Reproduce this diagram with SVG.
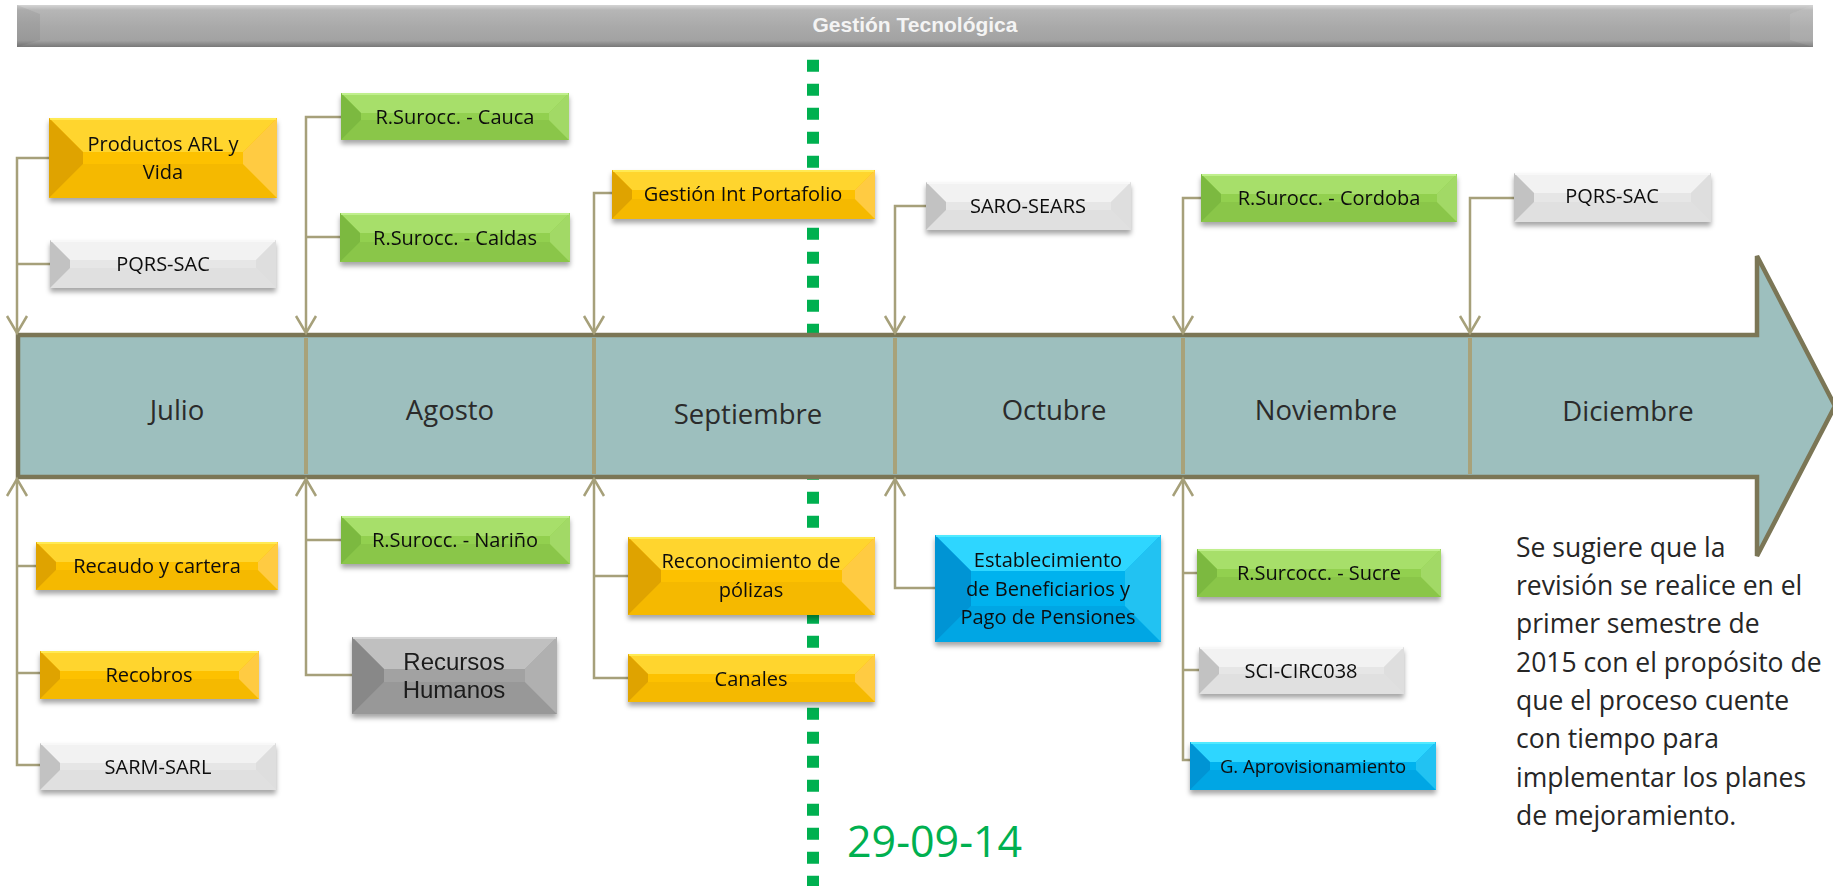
<svg xmlns="http://www.w3.org/2000/svg" width="1833" height="886" viewBox="0 0 1833 886">
<style>
.lbl{font-family:"Open Sans","Noto Sans",sans-serif;font-size:20px;fill:#0d0d0d;text-anchor:middle}
.lblA{font-family:"Liberation Sans",Arial,sans-serif;font-size:24px;fill:#1a1a1a;text-anchor:middle}
.month{font-family:"Open Sans","Noto Sans",sans-serif;font-size:27.5px;fill:#2b2b2b;text-anchor:middle}
.note{font-family:"Open Sans","Noto Sans",sans-serif;font-size:26.5px;fill:#262626}
.node{filter:url(#sh)}
.yellow .base{fill:#fdc100}.yellow .t{fill:#ffd52e}.yellow .l{fill:#dfa300}.yellow .r{fill:#ffcb42}.yellow .bo{fill:#f5b900}.yellow .hl{stroke:#fff060}
.green .base{fill:#92d050}.green .t{fill:#a7df6a}.green .l{fill:#7bb93f}.green .r{fill:#a2d966}.green .bo{fill:#8ac64a}.green .hl{stroke:#c8f49a}
.white .base{fill:#e6e6e6}.white .t{fill:#f2f2f2}.white .l{fill:#c2c2c2}.white .r{fill:#dedede}.white .bo{fill:#e0e0e0}.white .hl{stroke:#fafafa}
.blue .base{fill:#00b2ee}.blue .t{fill:#2ed6ff}.blue .l{fill:#0094d4}.blue .r{fill:#22c2f2}.blue .bo{fill:#00a6e4}.blue .hl{stroke:#5ef0ff}
.gray .base{fill:#a2a2a2}.gray .t{fill:#c0c0c0}.gray .l{fill:#888888}.gray .r{fill:#b0b0b0}.gray .bo{fill:#989898}.gray .hl{stroke:#dcdcdc}
.hl{stroke-width:1.5;fill:none}
</style>
<defs>
<filter id="sh" x="-10%" y="-20%" width="120%" height="150%">
<feDropShadow dx="0" dy="4" stdDeviation="2.5" flood-color="#000" flood-opacity="0.35"/>
</filter>
<linearGradient id="ban" x1="0" y1="0" x2="0" y2="1">
<stop offset="0" stop-color="#d4d4d4"/>
<stop offset="0.12" stop-color="#b6b6b6"/>
<stop offset="0.5" stop-color="#aaaaaa"/>
<stop offset="0.85" stop-color="#a2a2a2"/>
<stop offset="1" stop-color="#787878"/>
</linearGradient>
<marker id="v" markerUnits="userSpaceOnUse" markerWidth="30" markerHeight="30" viewBox="-20 -15 30 30" refX="0" refY="0" orient="auto">
<path d="M-17,-10 L0,0 L-17,10" fill="none" stroke="#a6a07a" stroke-width="2.5"/>
</marker>
</defs>

<rect x="0" y="0" width="1833" height="886" fill="#ffffff"/>

<g id="banner">
<rect x="17" y="5" width="1796" height="42" fill="url(#ban)"/>
<polygon points="17,5 40,14 40,40 17,47" fill="#000" opacity="0.06"/>
<polygon points="1813,5 1790,14 1790,40 1813,47" fill="#fff" opacity="0.08"/>
<text x="915" y="32" font-family="'Liberation Sans',Arial,sans-serif" font-size="21" font-weight="bold" fill="#f4f4f4" text-anchor="middle">Gestión Tecnológica</text>
</g>

<g id="milestone">
<line x1="813" y1="59.7" x2="813" y2="886" stroke="#00b050" stroke-width="12" stroke-dasharray="12 12"/>
<text x="847" y="857" font-family="'Open Sans','Noto Sans',sans-serif" font-size="43" fill="#00b050">29-09-14</text>
</g>

<g id="timeline">
<path d="M18,335 H1757 V256 L1835,406 L1757,556 V477 H18 Z" fill="#9dbfbe" stroke="#7b7656" stroke-width="4.5"/>
<g stroke="#a8a27a" stroke-width="4">
<line x1="306" y1="338" x2="306" y2="474"/>
<line x1="594" y1="338" x2="594" y2="474"/>
<line x1="895" y1="338" x2="895" y2="474"/>
<line x1="1183" y1="338" x2="1183" y2="474"/>
<line x1="1470" y1="338" x2="1470" y2="474"/>
</g>
<text class="month" x="177" y="420">Julio</text>
<text class="month" x="450" y="420">Agosto</text>
<text class="month" x="748" y="424">Septiembre</text>
<text class="month" x="1054" y="420">Octubre</text>
<text class="month" x="1326" y="420">Noviembre</text>
<text class="month" x="1628" y="421">Diciembre</text>
</g>

<g id="connectors" fill="none" stroke="#a6a07a" stroke-width="2.5">
<path d="M49,158 H17 V333" marker-end="url(#v)"/>
<path d="M50,264 H17"/>
<path d="M341,117 H306 V333" marker-end="url(#v)"/>
<path d="M340,237 H306"/>
<path d="M612,193 H594 V333" marker-end="url(#v)"/>
<path d="M926,206 H895 V333" marker-end="url(#v)"/>
<path d="M1201,198 H1183 V333" marker-end="url(#v)"/>
<path d="M1514,198 H1470 V333" marker-end="url(#v)"/>
<path d="M40,765 H17 V479" marker-end="url(#v)"/>
<path d="M36,566 H17"/>
<path d="M40,673 H17"/>
<path d="M352,675 H306 V479" marker-end="url(#v)"/>
<path d="M341,540 H306"/>
<path d="M628,678 H594 V479" marker-end="url(#v)"/>
<path d="M628,576 H594"/>
<path d="M935,588 H895 V479" marker-end="url(#v)"/>
<path d="M1190,760 H1183 V479" marker-end="url(#v)"/>
<path d="M1197,573 H1183"/>
<path d="M1199,670 H1183"/>
</g>

<g id="n-productos" class="node yellow" transform="translate(49,118)">
<rect class="base" width="228" height="80"/>
<polygon class="t" points="0,0 228,0 194,34 34,34"/><polygon class="bo" points="0,80 228,80 194,46 34,46"/>
<polygon class="l" points="0,0 34,34 34,46 0,80"/><polygon class="r" points="228,0 194,34 194,46 228,80"/>
<line class="hl" x1="1" y1="1" x2="227" y2="1"/>
<text class="lbl" x="114" y="33">Productos ARL y</text><text class="lbl" x="114" y="61">Vida</text>
</g>

<g id="n-pqrs1" class="node white" transform="translate(50,240)">
<rect class="base" width="226" height="48"/>
<polygon class="t" points="0,0 226,0 206,20 20,20"/><polygon class="bo" points="0,48 226,48 206,28 20,28"/>
<polygon class="l" points="0,0 20,20 20,28 0,48"/><polygon class="r" points="226,0 206,20 206,28 226,48"/>
<line class="hl" x1="1" y1="1" x2="225" y2="1"/>
<text class="lbl" x="113" y="31">PQRS-SAC</text>
</g>

<g id="n-cauca" class="node green" transform="translate(341,93)">
<rect class="base" width="228" height="47"/>
<polygon class="t" points="0,0 228,0 208,20 20,20"/><polygon class="bo" points="0,47 228,47 208,27 20,27"/>
<polygon class="l" points="0,0 20,20 20,27 0,47"/><polygon class="r" points="228,0 208,20 208,27 228,47"/>
<line class="hl" x1="1" y1="1" x2="227" y2="1"/>
<text class="lbl" x="114" y="31">R.Surocc. - Cauca</text>
</g>

<g id="n-caldas" class="node green" transform="translate(340,213)">
<rect class="base" width="230" height="49"/>
<polygon class="t" points="0,0 230,0 210,20 20,20"/><polygon class="bo" points="0,49 230,49 210,29 20,29"/>
<polygon class="l" points="0,0 20,20 20,29 0,49"/><polygon class="r" points="230,0 210,20 210,29 230,49"/>
<line class="hl" x1="1" y1="1" x2="229" y2="1"/>
<text class="lbl" x="115" y="32">R.Surocc. - Caldas</text>
</g>

<g id="n-portafolio" class="node yellow" transform="translate(612,170)">
<rect class="base" width="263" height="49"/>
<polygon class="t" points="0,0 263,0 243,20 20,20"/><polygon class="bo" points="0,49 263,49 243,29 20,29"/>
<polygon class="l" points="0,0 20,20 20,29 0,49"/><polygon class="r" points="263,0 243,20 243,29 263,49"/>
<line class="hl" x1="1" y1="1" x2="262" y2="1"/>
<text class="lbl" x="131" y="31">Gestión Int Portafolio</text>
</g>

<g id="n-saro" class="node white" transform="translate(926,182)">
<rect class="base" width="205" height="48"/>
<polygon class="t" points="0,0 205,0 185,20 20,20"/><polygon class="bo" points="0,48 205,48 185,28 20,28"/>
<polygon class="l" points="0,0 20,20 20,28 0,48"/><polygon class="r" points="205,0 185,20 185,28 205,48"/>
<line class="hl" x1="1" y1="1" x2="204" y2="1"/>
<text class="lbl" x="102" y="31">SARO-SEARS</text>
</g>

<g id="n-cordoba" class="node green" transform="translate(1201,174)">
<rect class="base" width="256" height="48"/>
<polygon class="t" points="0,0 256,0 236,20 20,20"/><polygon class="bo" points="0,48 256,48 236,28 20,28"/>
<polygon class="l" points="0,0 20,20 20,28 0,48"/><polygon class="r" points="256,0 236,20 236,28 256,48"/>
<line class="hl" x1="1" y1="1" x2="255" y2="1"/>
<text class="lbl" x="128" y="31">R.Surocc. - Cordoba</text>
</g>

<g id="n-pqrs2" class="node white" transform="translate(1514,173)">
<rect class="base" width="197" height="49"/>
<polygon class="t" points="0,0 197,0 177,20 20,20"/><polygon class="bo" points="0,49 197,49 177,29 20,29"/>
<polygon class="l" points="0,0 20,20 20,29 0,49"/><polygon class="r" points="197,0 177,20 177,29 197,49"/>
<line class="hl" x1="1" y1="1" x2="196" y2="1"/>
<text class="lbl" x="98" y="30">PQRS-SAC</text>
</g>

<g id="n-recaudo" class="node yellow" transform="translate(36,542)">
<rect class="base" width="242" height="48"/>
<polygon class="t" points="0,0 242,0 222,20 20,20"/><polygon class="bo" points="0,48 242,48 222,28 20,28"/>
<polygon class="l" points="0,0 20,20 20,28 0,48"/><polygon class="r" points="242,0 222,20 222,28 242,48"/>
<line class="hl" x1="1" y1="1" x2="241" y2="1"/>
<text class="lbl" x="121" y="31">Recaudo y cartera</text>
</g>

<g id="n-recobros" class="node yellow" transform="translate(40,651)">
<rect class="base" width="219" height="48"/>
<polygon class="t" points="0,0 219,0 199,20 20,20"/><polygon class="bo" points="0,48 219,48 199,28 20,28"/>
<polygon class="l" points="0,0 20,20 20,28 0,48"/><polygon class="r" points="219,0 199,20 199,28 219,48"/>
<line class="hl" x1="1" y1="1" x2="218" y2="1"/>
<text class="lbl" x="109" y="31">Recobros</text>
</g>

<g id="n-sarm" class="node white" transform="translate(40,743)">
<rect class="base" width="236" height="47"/>
<polygon class="t" points="0,0 236,0 216,20 20,20"/><polygon class="bo" points="0,47 236,47 216,27 20,27"/>
<polygon class="l" points="0,0 20,20 20,27 0,47"/><polygon class="r" points="236,0 216,20 216,27 236,47"/>
<line class="hl" x1="1" y1="1" x2="235" y2="1"/>
<text class="lbl" x="118" y="31">SARM-SARL</text>
</g>

<g id="n-narino" class="node green" transform="translate(341,516)">
<rect class="base" width="229" height="48"/>
<polygon class="t" points="0,0 229,0 209,20 20,20"/><polygon class="bo" points="0,48 229,48 209,28 20,28"/>
<polygon class="l" points="0,0 20,20 20,28 0,48"/><polygon class="r" points="229,0 209,20 209,28 229,48"/>
<line class="hl" x1="1" y1="1" x2="228" y2="1"/>
<text class="lbl" x="114" y="31">R.Surocc. - Nariño</text>
</g>

<g id="n-rrhh" class="node gray" transform="translate(352,637)">
<rect class="base" width="205" height="77"/>
<polygon class="t" points="0,0 205,0 173,32 32,32"/><polygon class="bo" points="0,77 205,77 173,45 32,45"/>
<polygon class="l" points="0,0 32,32 32,45 0,77"/><polygon class="r" points="205,0 173,32 173,45 205,77"/>
<line class="hl" x1="1" y1="1" x2="204" y2="1"/>
<text class="lblA" x="102" y="33">Recursos</text><text class="lblA" x="102" y="61">Humanos</text>
</g>

<g id="n-reconocimiento" class="node yellow" transform="translate(628,537)">
<rect class="base" width="247" height="78"/>
<polygon class="t" points="0,0 247,0 214,33 33,33"/><polygon class="bo" points="0,78 247,78 214,45 33,45"/>
<polygon class="l" points="0,0 33,33 33,45 0,78"/><polygon class="r" points="247,0 214,33 214,45 247,78"/>
<line class="hl" x1="1" y1="1" x2="246" y2="1"/>
<text class="lbl" x="123" y="31">Reconocimiento de</text><text class="lbl" x="123" y="60">pólizas</text>
</g>

<g id="n-canales" class="node yellow" transform="translate(628,654)">
<rect class="base" width="247" height="48"/>
<polygon class="t" points="0,0 247,0 227,20 20,20"/><polygon class="bo" points="0,48 247,48 227,28 20,28"/>
<polygon class="l" points="0,0 20,20 20,28 0,48"/><polygon class="r" points="247,0 227,20 227,28 247,48"/>
<line class="hl" x1="1" y1="1" x2="246" y2="1"/>
<text class="lbl" x="123" y="32">Canales</text>
</g>

<g id="n-establecimiento" class="node blue" transform="translate(935,535)">
<rect class="base" width="226" height="107"/>
<polygon class="t" points="0,0 226,0 190,36 36,36"/><polygon class="bo" points="0,107 226,107 190,71 36,71"/>
<polygon class="l" points="0,0 36,36 36,71 0,107"/><polygon class="r" points="226,0 190,36 190,71 226,107"/>
<line class="hl" x1="1" y1="1" x2="225" y2="1"/>
<text class="lbl" x="113" y="32">Establecimiento</text><text class="lbl" x="113" y="61">de Beneficiarios y</text><text class="lbl" x="113" y="89">Pago de Pensiones</text>
</g>

<g id="n-sucre" class="node green" transform="translate(1197,549)">
<rect class="base" width="244" height="48"/>
<polygon class="t" points="0,0 244,0 224,20 20,20"/><polygon class="bo" points="0,48 244,48 224,28 20,28"/>
<polygon class="l" points="0,0 20,20 20,28 0,48"/><polygon class="r" points="244,0 224,20 224,28 244,48"/>
<line class="hl" x1="1" y1="1" x2="243" y2="1"/>
<text class="lbl" x="122" y="31">R.Surcocc. - Sucre</text>
</g>

<g id="n-sci" class="node white" transform="translate(1199,647)">
<rect class="base" width="205" height="47"/>
<polygon class="t" points="0,0 205,0 185,20 20,20"/><polygon class="bo" points="0,47 205,47 185,27 20,27"/>
<polygon class="l" points="0,0 20,20 20,27 0,47"/><polygon class="r" points="205,0 185,20 185,27 205,47"/>
<line class="hl" x1="1" y1="1" x2="204" y2="1"/>
<text class="lbl" x="102" y="31">SCI-CIRC038</text>
</g>

<g id="n-aprov" class="node blue" transform="translate(1190,742)">
<rect class="base" width="246" height="48"/>
<polygon class="t" points="0,0 246,0 226,20 20,20"/><polygon class="bo" points="0,48 246,48 226,28 20,28"/>
<polygon class="l" points="0,0 20,20 20,28 0,48"/><polygon class="r" points="246,0 226,20 226,28 246,48"/>
<line class="hl" x1="1" y1="1" x2="245" y2="1"/>
<text class="lbl" x="123" y="31" style="font-size:18.5px">G. Aprovisionamiento</text>
</g>

<g id="note">
<text class="note" x="1516" y="557">Se sugiere que la</text>
<text class="note" x="1516" y="595">revisión se realice en el</text>
<text class="note" x="1516" y="633">primer semestre de</text>
<text class="note" x="1516" y="672">2015 con el propósito de</text>
<text class="note" x="1516" y="710">que el proceso cuente</text>
<text class="note" x="1516" y="748">con tiempo para</text>
<text class="note" x="1516" y="787">implementar los planes</text>
<text class="note" x="1516" y="825">de mejoramiento.</text>
</g>
</svg>
